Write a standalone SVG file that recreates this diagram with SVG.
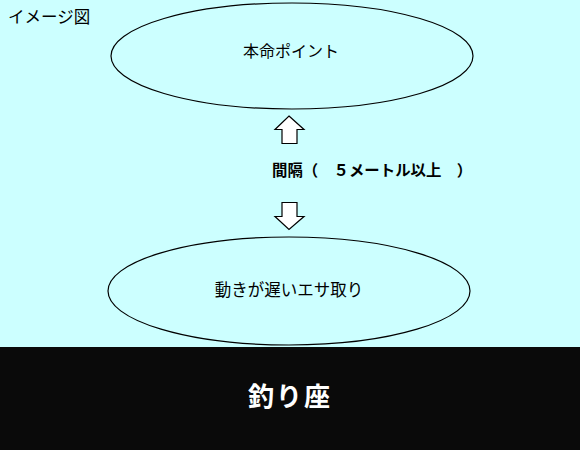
<svg xmlns="http://www.w3.org/2000/svg" width="580" height="450" viewBox="0 0 580 450">
<style>
.t{font-family:"Noto Sans CJK JP","Noto Sans CJK SC",sans-serif;fill:#000}
.node{fill:none;stroke:#000;stroke-width:1.2}
.arr{fill:#fff;stroke:#000;stroke-width:1.2;stroke-linejoin:miter}
</style>
<rect x="0" y="0" width="580" height="450" fill="#ccffff"/>
<g id="title"><text class="t" x="8" y="23" font-size="16.5">イメージ図</text></g>
<g id="node-honmei">
<ellipse class="node" cx="292" cy="56" rx="181" ry="53"/>
<text class="t" x="291" y="57" font-size="16" text-anchor="middle">本命ポイント</text>
</g>
<g id="connectors">
<polygon class="arr" points="289,116 304,129.5 297,129.5 297,143.5 282,143.5 282,129.5 275,129.5"/>
<polygon class="arr" points="282,202.5 297,202.5 297,216.5 304,216.5 289,229.5 275,216.5 282,216.5"/>
<text class="t" x="272" y="176" font-size="15.4" font-weight="bold">間隔（　５メートル以上　）</text>
</g>
<g id="node-esatori">
<ellipse class="node" cx="289" cy="291" rx="181" ry="54"/>
<text class="t" x="289" y="296" font-size="16.5" text-anchor="middle">動きが遅いエサ取り</text>
</g>
<g id="node-tsuriza">
<rect x="0" y="347" width="580" height="103" fill="#0a0a0a"/>
<text class="t" x="290" y="406" font-size="26" font-weight="bold" letter-spacing="2" text-anchor="middle" style="fill:#fff">釣り座</text>
</g>
</svg>
